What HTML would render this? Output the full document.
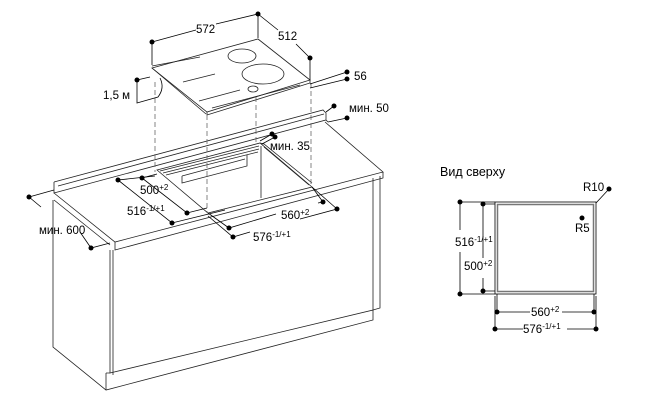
<!DOCTYPE html>
<html><head><meta charset="utf-8"><style>
html,body{margin:0;padding:0;background:#fff;}
svg{display:block;font-family:"Liberation Sans",sans-serif;}
</style></head><body>
<svg width="650" height="400" viewBox="0 0 650 400" xmlns="http://www.w3.org/2000/svg">
<g fill="none" stroke="#222" stroke-width="0.8">
<path d="M54,182 L323,110 L326,113 L326,120 M54,182 L54,193 L326,120 L328,122"/>
<path d="M58,186 L324,114"/>
<path d="M54,193 L115,242 L383,172 L325,122"/>
<path d="M115,242 L115,250 L383,178 L383,172"/>
<path d="M54,200 L110,245"/>
<path d="M110,250 L110,373 L373,310 L373,178"/>
<path d="M113,250 L113,375"/>
<path d="M380,176 L380,308 L373,310"/>
<path d="M53,200 L53,347 L106,390 L373,320 L373,310"/>
<path d="M106,373 L106,390 M106,373 L110,373"/>
<path d="M157,170 L260,143 L312,187 L208,213 Z"/>
<path d="M160,171 L259,146 M163,173 L259,149 M166,175 L258,152"/>
<path d="M260,143 L264,144 L312,183 M264,147 L309,185"/>
<path d="M182,176 L182,183 L247,166 L247,155 M182,176 L245,159"/>
<path d="M261,146 L261,198"/>
<path d="M152,68 L258,39 L310,80 L207,112 Z"/>
<path d="M207,112 L207,115 L310,83 L310,80 M152,68 L206,114"/>
<path d="M152,66 L200,57"/>
<ellipse cx="242" cy="56" rx="14" ry="7"/>
<ellipse cx="263" cy="74" rx="21" ry="10"/>
<ellipse cx="253" cy="89" rx="5" ry="3"/>
<path d="M183,82 L215,74 M199,101 L240,90 M212,108 L300,85"/>
</g>
<g stroke="#666" stroke-width="0.8" stroke-dasharray="5,3" fill="none">
<path d="M155,82 L155,172 M207,115 L207,213 M256,97 L256,145 M311,83 L311,187"/>
</g>
<g stroke="#000" stroke-width="0.8" fill="none">
<path d="M152,42 L196,30 M216,24 L258,14 L258,38 M152,42 L152,65"/>
<path d="M258,14 L278,30 M296,44 L310,58 L310,80"/>
<path d="M310,84 L347,72 M310,88 L347,79"/>
<path d="M137,80 L150,77 M137,80 L137,103 L158,97 Q165,88 160,78"/>
<path d="M326,112 L334,106 M328,122 L347,118"/>
<path d="M260,141 L272,134 M262,144 L275,137"/>
<path d="M142,178 L157,174 M142,178 L187,213 L207,208"/>
<path d="M118,180 L155,176 M118,180 L172,223 L225,210"/>
<path d="M312,187 L323,202 L318,203 M276,214 L229,228 L208,213"/>
<path d="M312,187 L337,209 L300,219 M250,232 L233,237 L208,216"/>
<path d="M29,197 L54,190 M29,197 L41,207 M80,232 L91,248 L110,243"/>
<rect x="495" y="202" width="101" height="92"/>
<rect x="497.5" y="204.5" width="96" height="87" stroke="#777" stroke-width="1.5"/>
<path d="M460,202 L495,202 M460,294 L495,294 M460,202 L460,230 M460,252 L460,294"/>
<path d="M483,204 L495,204 M483,291 L495,291 M483,204 L483,258 M483,278 L483,291"/>
<path d="M497,294 L497,312 M594,294 L594,312 M497,312 L530,312 M562,312 L594,312"/>
<path d="M495,296 L495,329 M596,296 L596,329 M495,329 L523,329 M567,329 L596,329"/>
<path d="M596,203 L609,189"/>
</g>
<g fill="#000">
<circle cx="152" cy="42" r="2.5"/><circle cx="258" cy="14" r="2.5"/><circle cx="310" cy="58" r="2.5"/>
<circle cx="347" cy="72" r="2.5"/><circle cx="347" cy="79" r="2.5"/>
<circle cx="137" cy="80" r="2.5"/>
<circle cx="334" cy="106" r="2.5"/><circle cx="347" cy="118" r="2.5"/>
<circle cx="272" cy="134" r="2.5"/><circle cx="275" cy="137" r="2.5"/>
<circle cx="142" cy="178" r="2.5"/><circle cx="187" cy="213" r="2.5"/>
<circle cx="118" cy="180" r="2.5"/><circle cx="172" cy="223" r="2.5"/>
<circle cx="323" cy="202" r="2.5"/><circle cx="229" cy="228" r="2.5"/>
<circle cx="337" cy="209" r="2.5"/><circle cx="233" cy="237" r="2.5"/>
<circle cx="29" cy="197" r="2.5"/><circle cx="91" cy="248" r="2.5"/>
<circle cx="460" cy="202" r="2.5"/><circle cx="460" cy="294" r="2.5"/>
<circle cx="483" cy="204" r="2.5"/><circle cx="483" cy="291" r="2.5"/>
<circle cx="497" cy="312" r="2.5"/><circle cx="594" cy="312" r="2.5"/>
<circle cx="495" cy="329" r="2.5"/><circle cx="596" cy="329" r="2.5"/>
<circle cx="609" cy="189" r="2.5"/><circle cx="582" cy="218" r="2.5"/>
</g>
<g font-size="11.5" fill="#000">
<text x="196" y="33">572</text>
<text x="278" y="40">512</text>
<text x="354" y="80">56</text>
<text x="103" y="99">1,5 м</text>
<text x="349" y="112">мин. 50</text>
<text x="270" y="150">мин. 35</text>
<text x="140" y="194">500<tspan font-size="8" dy="-4">+2</tspan></text>
<text x="127" y="215">516<tspan font-size="8" dy="-4">-1/+1</tspan></text>
<text x="281" y="219">560<tspan font-size="8" dy="-4">+2</tspan></text>
<text x="253" y="241">576<tspan font-size="8" dy="-4">-1/+1</tspan></text>
<text x="39" y="234">мин. 600</text>
<text x="440" y="176" font-size="12.5">Вид сверху</text>
<text x="583" y="191">R10</text>
<text x="575" y="232">R5</text>
<text x="455" y="246">516<tspan font-size="8" dy="-4">-1/+1</tspan></text>
<text x="464" y="270">500<tspan font-size="8" dy="-4">+2</tspan></text>
<text x="531" y="316">560<tspan font-size="8" dy="-4">+2</tspan></text>
<text x="523" y="333">576<tspan font-size="8" dy="-4">-1/+1</tspan></text>
</g>
</svg>
</body></html>
